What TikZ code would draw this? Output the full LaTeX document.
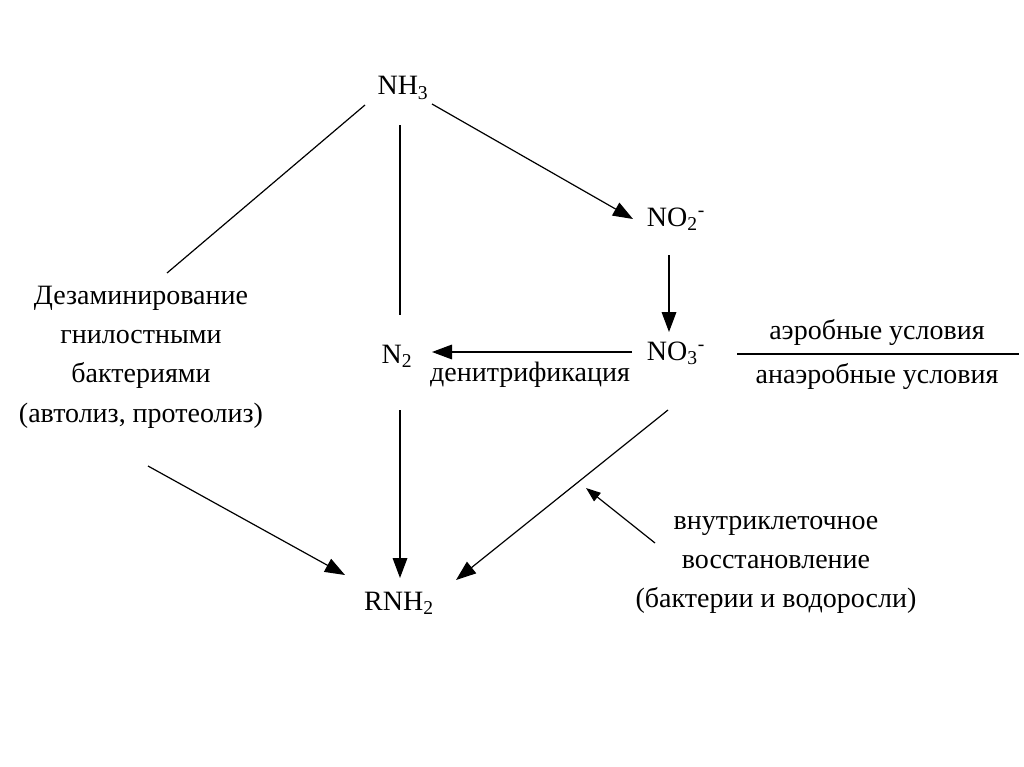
\documentclass[tikz,border=0pt]{standalone}
\usepackage{fontspec}
\setmainfont{Liberation Serif}
\newfontfamily\tnr{Liberation Serif}
\usetikzlibrary{arrows.meta,calc}
\begin{document}
\begin{tikzpicture}[x=0.75pt,y=-0.75pt,
  every node/.style={font=\tnr\fontsize{21}{29.5}\selectfont, inner sep=0pt},
  lbl/.style={align=center},
  conn/.style={line width=0.9pt},
  arr/.style={conn,-{Triangle[length=15pt,width=11pt]}},
  sarr/.style={conn,-{Triangle[length=11pt,width=8pt]}}]
\useasboundingbox[fill=white] (0,0) rectangle (1024,767);
% species
\node (nh3) at (403,88) {NH\textsubscript{3}};
\node (no2) at (676,219) {NO\textsubscript{2}\textsuperscript{-}};
\node (no3) at (676,353) {NO\textsubscript{3}\textsuperscript{-}};
\node (n2) at (397,356) {N\textsubscript{2}};
\node (rnh2) at (399,603) {RNH\textsubscript{2}};
% labels
\node[lbl] (deam) at (141,357) {Дезаминирование\\гнилостными\\бактериями\\(автолиз, протеолиз)};
\node (denit) at (530,375) {денитрификация};
\node (aer) at (877,332) {аэробные условия};
\node (anaer) at (877,376) {анаэробные условия};
\node[lbl] (intra) at (776,565) {внутриклеточное\\восстановление\\(бактерии и водоросли)};
% fraction line
\draw[conn] ([shift={(-140,0)}]$(aer)!0.5!(anaer)$) coordinate (fl) -- ([shift={(142,0)}]$(aer)!0.5!(anaer)$) coordinate (fr);
% connectors
\draw[conn] ([shift={(-38,17)}]nh3.center) -- ([shift={(26,-84)}]deam.center);
\draw[conn] ([shift={(-3,37)}]nh3.center) -- ([shift={(3,-41)}]n2.center);
\draw[arr] ([shift={(29,16)}]nh3.center) -- ([shift={(-43,0)}]no2.center);
\draw[arr] ([shift={(-7,36)}]no2.center) -- ([shift={(-7,-21)}]no3.center);
\draw[arr] ([shift={(-44,-1)}]no3.center) -- ([shift={(35,-4)}]n2.center);
\draw[arr] ([shift={(3,54)}]n2.center) -- ([shift={(1,-25)}]rnh2.center);
\draw[arr] ([shift={(7,109)}]deam.center) -- ([shift={(-54,-28)}]rnh2.center);
\draw[arr] ([shift={(-8,57)}]no3.center) -- ([shift={(57,-23)}]rnh2.center);
\draw[sarr] ([shift={(-121,-22)}]intra.center) -- ([shift={(-190,-77)}]intra.center);
\end{tikzpicture}
\end{document}
